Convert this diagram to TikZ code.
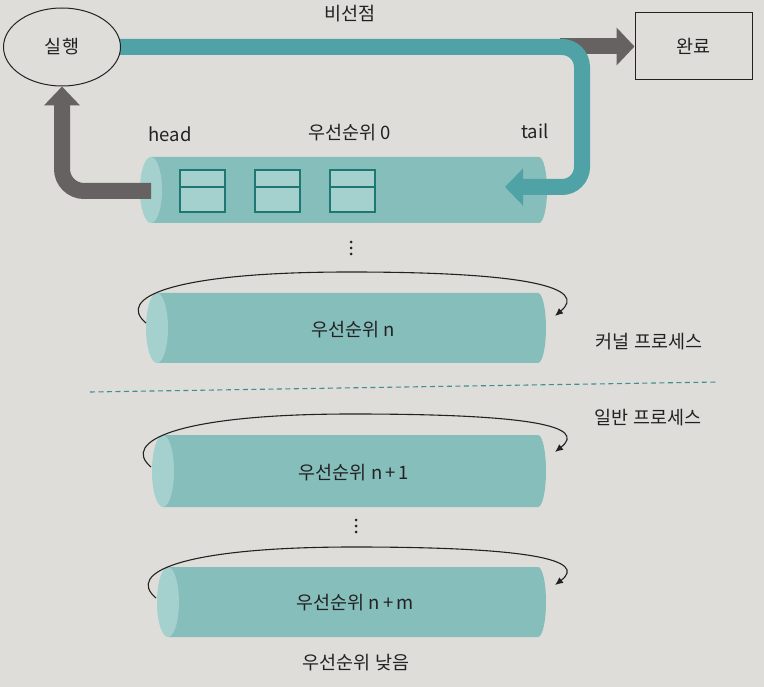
\documentclass[tikz,border=0pt]{standalone}
\usepackage{fontspec}
\setmainfont{Noto Sans CJK KR}
\usetikzlibrary{arrows.meta,shapes.geometric}
\definecolor{paper}{HTML}{DEDDD9}
\definecolor{cylbody}{HTML}{86BEBC}
\definecolor{cylface}{HTML}{A4D0CE}
\definecolor{tealarrow}{HTML}{4FA3A6}
\definecolor{grayarrow}{HTML}{666262}
\definecolor{boxline}{HTML}{1F7774}
\definecolor{dashc}{HTML}{3F8D95}
\definecolor{ink}{HTML}{222222}
\pgfdeclarelayer{bg}
\pgfdeclarelayer{mid}
\pgfsetlayers{bg,mid,main}
\newcommand{\mycyl}[5]{% x0 x1 top bottom ry
  \fill[cylbody] (#1+11,#3) -- (#2-8,#3) arc[start angle=90,end angle=-90,x radius=8pt,y radius=#5pt] -- (#1+11,#4) -- cycle;
  \fill[cylface] (#1+11,{(#3+#4)/2}) ellipse[x radius=11pt,y radius=#5pt];
}
\begin{document}
\begin{tikzpicture}[x=1pt,y=-1pt,
  lbl/.style={font=\fontsize{18.5}{21}\selectfont, text=ink, inner sep=0pt},
  loop/.style={draw=ink, line width=1.1pt, -{Latex[length=8pt,width=7pt]}},
  qbox/.style={draw=boxline, line width=1.4pt, fill=cylface},
  dotmark/.style={fill=ink, circle, inner sep=0pt, minimum size=3pt}]
\begin{pgfonlayer}{bg}
\fill[paper] (0,0) rectangle (764,687);
\mycyl{140}{547}{157}{223}{33}
\mycyl{146}{546}{293}{363}{35}
\mycyl{152}{546}{435}{507}{36}
\mycyl{157}{546}{567}{637}{35}
\foreach \x in {180,255,330}{
  \draw[qbox] (\x,170) rectangle (\x+45,212);
  \draw[boxline, line width=1.4pt] (\x,187) -- (\x+45,187);
}
\end{pgfonlayer}
\useasboundingbox (0,0) rectangle (764,687);

% nodes
\node[lbl, draw=ink, line width=1pt, fill=paper, ellipse, minimum width=117pt, minimum height=78pt] (run) at (62,47) {실행};
\node[lbl, draw=ink, line width=1pt, fill=paper, minimum width=117pt, minimum height=67pt] (done) at (693.5,46.5) {완료};
\node[lbl] (nonpre) at (350,14) {비선점};
\node[lbl] (head) at (170,134) {head};
\node[lbl] (p0) at (350,133) {우선순위 0};
\node[lbl] (tail) at (535,131) {tail};
\node[lbl] (pn) at (353,330) {우선순위 n};
\node[lbl] (kern) at (649,342) {커널 프로세스};
\node[lbl] (user) at (648,418) {일반 프로세스};
\node[lbl] (pn1) at (354,473) {우선순위 n\,+\,1};
\node[lbl] (pnm) at (355,603) {우선순위 n\,+\,m};
\node[lbl] (low) at (356,663) {우선순위 낮음};
\foreach \i/\y in {a/242,b/248,c/254} \node[dotmark] (d1\i) at (351,\y) {};
\foreach \i/\y in {a/520,b/526,c/532} \node[dotmark] (d2\i) at (356,\y) {};

\coordinate (c0head) at (151,191);
\coordinate (c0tail) at (505,187);
\coordinate (nL) at (146,323);   \coordinate (nR) at (555,316);
\coordinate (n1L) at (151,467);  \coordinate (n1R) at (555,452);
\coordinate (nmL) at (156,598);  \coordinate (nmR) at (555,585);
\coordinate (dL) at (90,392);    \coordinate (dR) at (718,382);

\begin{pgfonlayer}{mid}
\draw[grayarrow, line width=16pt, -{Triangle[length=18pt,width=37pt]}] (560,46.5) -- (done.west);
\draw[tealarrow, line width=16pt, rounded corners=20pt, -{Triangle[length=18pt,width=36pt]}]
  (run.center) -- (582,47) -- (582,187) -- (c0tail);
\draw[grayarrow, line width=16pt, rounded corners=22pt, -{Triangle[length=19pt,width=35pt]}]
  (c0head) -- (62,191) -- (run.south);
\end{pgfonlayer}

\draw[loop] (nL) .. controls (116,298) and (170,272) .. (350,272) .. controls (530,272) and (588,288) .. (nR);
\draw[loop] (n1L) .. controls (121,442) and (175,414) .. (352,414) .. controls (530,414) and (588,426) .. (n1R);
\draw[loop] (nmL) .. controls (126,573) and (180,547) .. (354,547) .. controls (530,547) and (588,560) .. (nmR);

\draw[dashc, line width=1.1pt, dash pattern=on 5pt off 3.5pt] (dL) -- (dR);
\end{tikzpicture}
\end{document}
